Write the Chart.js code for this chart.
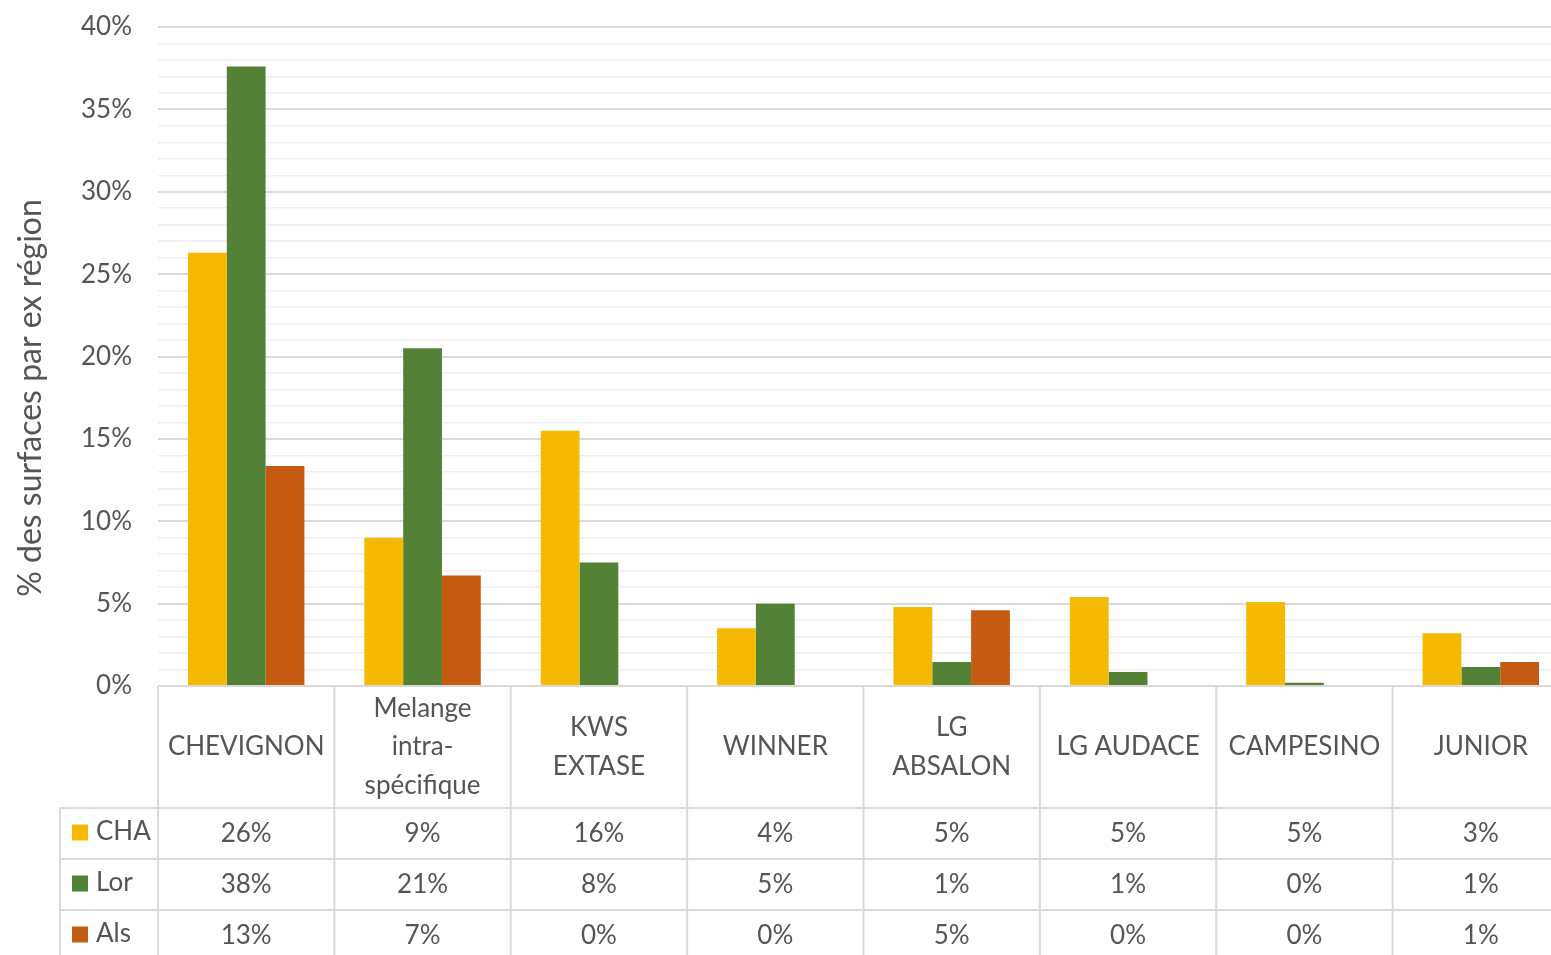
<!DOCTYPE html>
<html>
<head>
<meta charset="utf-8">
<script src="https://cdn.jsdelivr.net/npm/chart.js@4"></script>
<style>
  html, body { margin: 0; padding: 0; background: #fff; overflow: hidden; }
  #wrap { width: 1569px; height: 955px; }
</style>
</head>
<body>
<div id="wrap"><canvas id="chart"></canvas></div>
<script>
// Categories (multi-line labels as shown in the data table header)
const categories = [
  ['CHEVIGNON'],
  ['Melange', 'intra-', 'spécifique'],
  ['KWS', 'EXTASE'],
  ['WINNER'],
  ['LG', 'ABSALON'],
  ['LG AUDACE'],
  ['CAMPESINO'],
  ['JUNIOR']
];
const seriesNames = ['CHA', 'Lor', 'Als'];
const seriesColors = ['#F4B900', '#538135', '#C55A11'];

// % of surfaces per ex-region
const chaValues = [26.3, 9.0, 15.5, 3.5, 4.8, 5.4, 5.1, 3.2];
const lorValues = [37.6, 20.5, 7.5, 5.0, 1.45, 0.85, 0.2, 1.15];
const alsValues = [13.35, 6.7, 0, 0, 4.6, 0, 0, 1.45];

const yTicksMax = 40;
const yTitle = '% des surfaces par ex région';
const FONT = 'Lato, "Open Sans", sans-serif';
const TEXT = '#555555';
const LINE = '#d9d9d9';

// draws the Excel-style data table under the plot + the y title
const dataTable = {
  id: 'dataTable',
  afterDraw(chart) {
    const ctx = chart.ctx;
    const x = chart.scales.x;
    const area = chart.chartArea;
    const step = x.getPixelForValue(1) - x.getPixelForValue(0);
    const right = chart.width;
    const headerBottom = area.bottom + 122;
    const rowH = 51;
    const legendLeft = 60;
    const allValues = [chaValues, lorValues, alsValues];

    ctx.save();
    ctx.strokeStyle = LINE;
    ctx.lineWidth = 2;
    // horizontal lines
    ctx.beginPath();
    ctx.moveTo(area.left, area.bottom); ctx.lineTo(right, area.bottom);
    for (let r = 0; r < 3; r++) {
      const yy = headerBottom + r * rowH;
      ctx.moveTo(legendLeft, yy); ctx.lineTo(right, yy);
    }
    // vertical lines
    for (let i = 0; i <= categories.length; i++) {
      const xx = x.getPixelForValue(i) - step / 2;
      ctx.moveTo(xx, area.bottom); ctx.lineTo(xx, chart.height);
    }
    ctx.moveTo(legendLeft, headerBottom); ctx.lineTo(legendLeft, chart.height);
    ctx.stroke();

    ctx.fillStyle = TEXT;
    ctx.font = '26px ' + FONT;
    ctx.textAlign = 'center';
    ctx.textBaseline = 'middle';
    // header labels
    const midHeader = (area.bottom + headerBottom) / 2;
    categories.forEach((lines, i) => {
      const cx = x.getPixelForValue(i);
      const y0 = midHeader - (lines.length - 1) * 38.5 / 2;
      lines.forEach((t, k) => ctx.fillText(t, cx, y0 + k * 38.5));
    });
    // rows
    allValues.forEach((vals, r) => {
      const cy = headerBottom + r * rowH + rowH / 2 - 1;
      ctx.fillStyle = seriesColors[r];
      ctx.fillRect(72, cy - 8, 16, 16);
      ctx.fillStyle = TEXT;
      ctx.textAlign = 'left';
      ctx.fillText(seriesNames[r], 96, cy - 1);
      ctx.textAlign = 'center';
      vals.forEach((v, i) => {
        ctx.fillText(Math.round(v) + '%', x.getPixelForValue(i), cy + 1);
      });
    });

    // y axis title
    ctx.translate(31, 398);
    ctx.rotate(-Math.PI / 2);
    ctx.font = '32px ' + FONT;
    ctx.textAlign = 'center';
    ctx.fillText(yTitle, 0, 0);
    ctx.restore();
  }
};

const ctx = document.getElementById('chart').getContext('2d');
new Chart(ctx, {
  type: 'bar',
  data: {
    labels: categories,
    datasets: [
      { label: seriesNames[0], data: chaValues, backgroundColor: seriesColors[0] },
      { label: seriesNames[1], data: lorValues, backgroundColor: seriesColors[1] },
      { label: seriesNames[2], data: alsValues, backgroundColor: seriesColors[2] }
    ]
  },
  options: {
    responsive: true,
    maintainAspectRatio: false,
    animation: false,
    categoryPercentage: 0.66,
    barPercentage: 1.0,
    layout: { padding: { top: 27, bottom: 269, left: 0, right: 0 } },
    plugins: {
      legend: { display: false },
      tooltip: { enabled: false }
    },
    scales: {
      x: {
        display: false
      },
      y: {
        min: 0,
        max: yTicksMax,
        afterFit: (scale) => {
          scale.width = 158;
          scale.paddingTop = 0;
          scale.paddingBottom = 0;
        },
        border: { display: false },
        grid: {
          drawTicks: false,
          color: (c) => c.tick.value % 5 === 0 ? '#d9d9d9' : '#efefef',
          lineWidth: (c) => c.tick.value % 5 === 0 ? 2 : 1.5
        },
        ticks: {
          stepSize: 1,
          autoSkip: false,
          padding: 26,
          color: TEXT,
          font: { family: FONT, size: 26 },
          callback: (v) => v % 5 === 0 ? v + '%' : ''
        }
      }
    }
  },
  plugins: [dataTable]
});
</script>
</body>
</html>
